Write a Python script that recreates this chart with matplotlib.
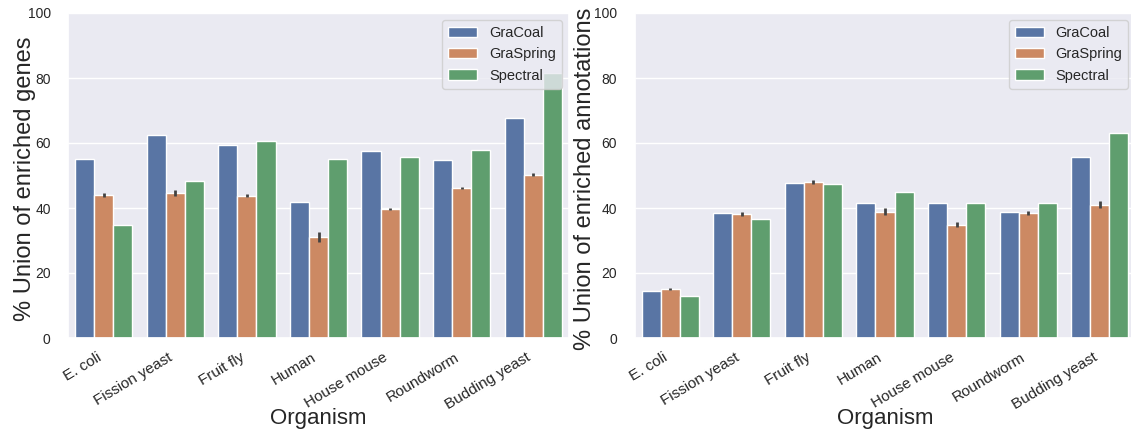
import numpy as np
import matplotlib
matplotlib.use("Agg")
import matplotlib.pyplot as plt
import seaborn as sns

organisms = ["E. coli", "Fission yeast", "Fruit fly", "Human",
             "House mouse", "Roundworm", "Budding yeast"]
methods = ["GraCoal", "GraSpring", "Spectral"]

# % union of enriched genes
genes_gracoal = [55.1, 62.6, 59.5, 41.8, 57.4, 54.9, 67.7]
genes_graspring = [44.0, 44.7, 43.8, 31.0, 39.8, 46.2, 50.3]
genes_spectral = [34.7, 48.3, 60.5, 55.2, 55.8, 57.9, 81.4]
genes_graspring_err = [0.6, 0.9, 0.5, 1.5, 0.3, 0.2, 0.5]

# % union of enriched annotations
annot_gracoal = [14.5, 38.6, 47.7, 41.5, 41.5, 38.8, 55.8]
annot_graspring = [15.1, 38.2, 48.1, 38.9, 34.9, 38.5, 41.0]
annot_spectral = [13.0, 36.7, 47.5, 44.8, 41.6, 41.6, 63.0]
annot_graspring_err = [0.4, 0.7, 0.6, 1.1, 0.7, 0.5, 1.1]

sns.set_theme(style="darkgrid")
plt.rcParams["font.family"] = ["Liberation Sans", "DejaVu Sans"]

palette = sns.color_palette("deep", 3)
colors = [sns.desaturate(c, 0.75) for c in palette]

W, H = 1131, 430
fig = plt.figure(figsize=(W / 100, H / 100), dpi=100)
ax1 = fig.add_axes([68 / W, 92 / H, 501 / W, 325 / H])
ax2 = fig.add_axes([634.5 / W, 92 / H, 501 / W, 325 / H])


def draw(ax, series, err, ylabel, ylabel_x):
    x = np.arange(len(organisms))
    w = 0.8 / 3
    for i, (name, vals) in enumerate(zip(methods, series)):
        pos = x - 0.4 + w * (i + 0.5)
        ax.bar(pos, vals, width=w, color=colors[i], edgecolor="white",
               linewidth=1.0, label=name, zorder=2)
        if name == "GraSpring":
            vals = np.asarray(vals)
            e = np.asarray(err)
            ax.vlines(pos, vals - e, vals + e, color=".26", lw=2.0, zorder=3)
    ax.grid(axis="x", visible=False)
    ax.set_xlim(-0.5, len(organisms) - 0.5)
    ax.set_ylim(0, 100)
    ax.set_yticks([0, 20, 40, 60, 80, 100])
    ax.set_xticks(x)
    ax.set_xticklabels(organisms, rotation=31, ha="right", fontsize=11)
    ax.tick_params(axis="y", labelsize=10, pad=6.5)
    ax.tick_params(axis="x", pad=3)
    ax.set_xlabel("Organism", fontsize=16)
    ax.xaxis.set_label_coords(0.5, -0.215)
    ax.set_ylabel(ylabel, fontsize=17)
    ax.yaxis.set_label_coords(ylabel_x, 0.49)
    leg = ax.legend(loc="upper right", fontsize=10.5, framealpha=0.8)
    leg.set_zorder(5)


draw(ax1, [genes_gracoal, genes_graspring, genes_spectral],
     genes_graspring_err, "% Union of enriched genes", -0.064)
draw(ax2, [annot_gracoal, annot_graspring, annot_spectral],
     annot_graspring_err, "% Union of enriched annotations", -0.077)

fig.savefig("out.png", dpi=100)
